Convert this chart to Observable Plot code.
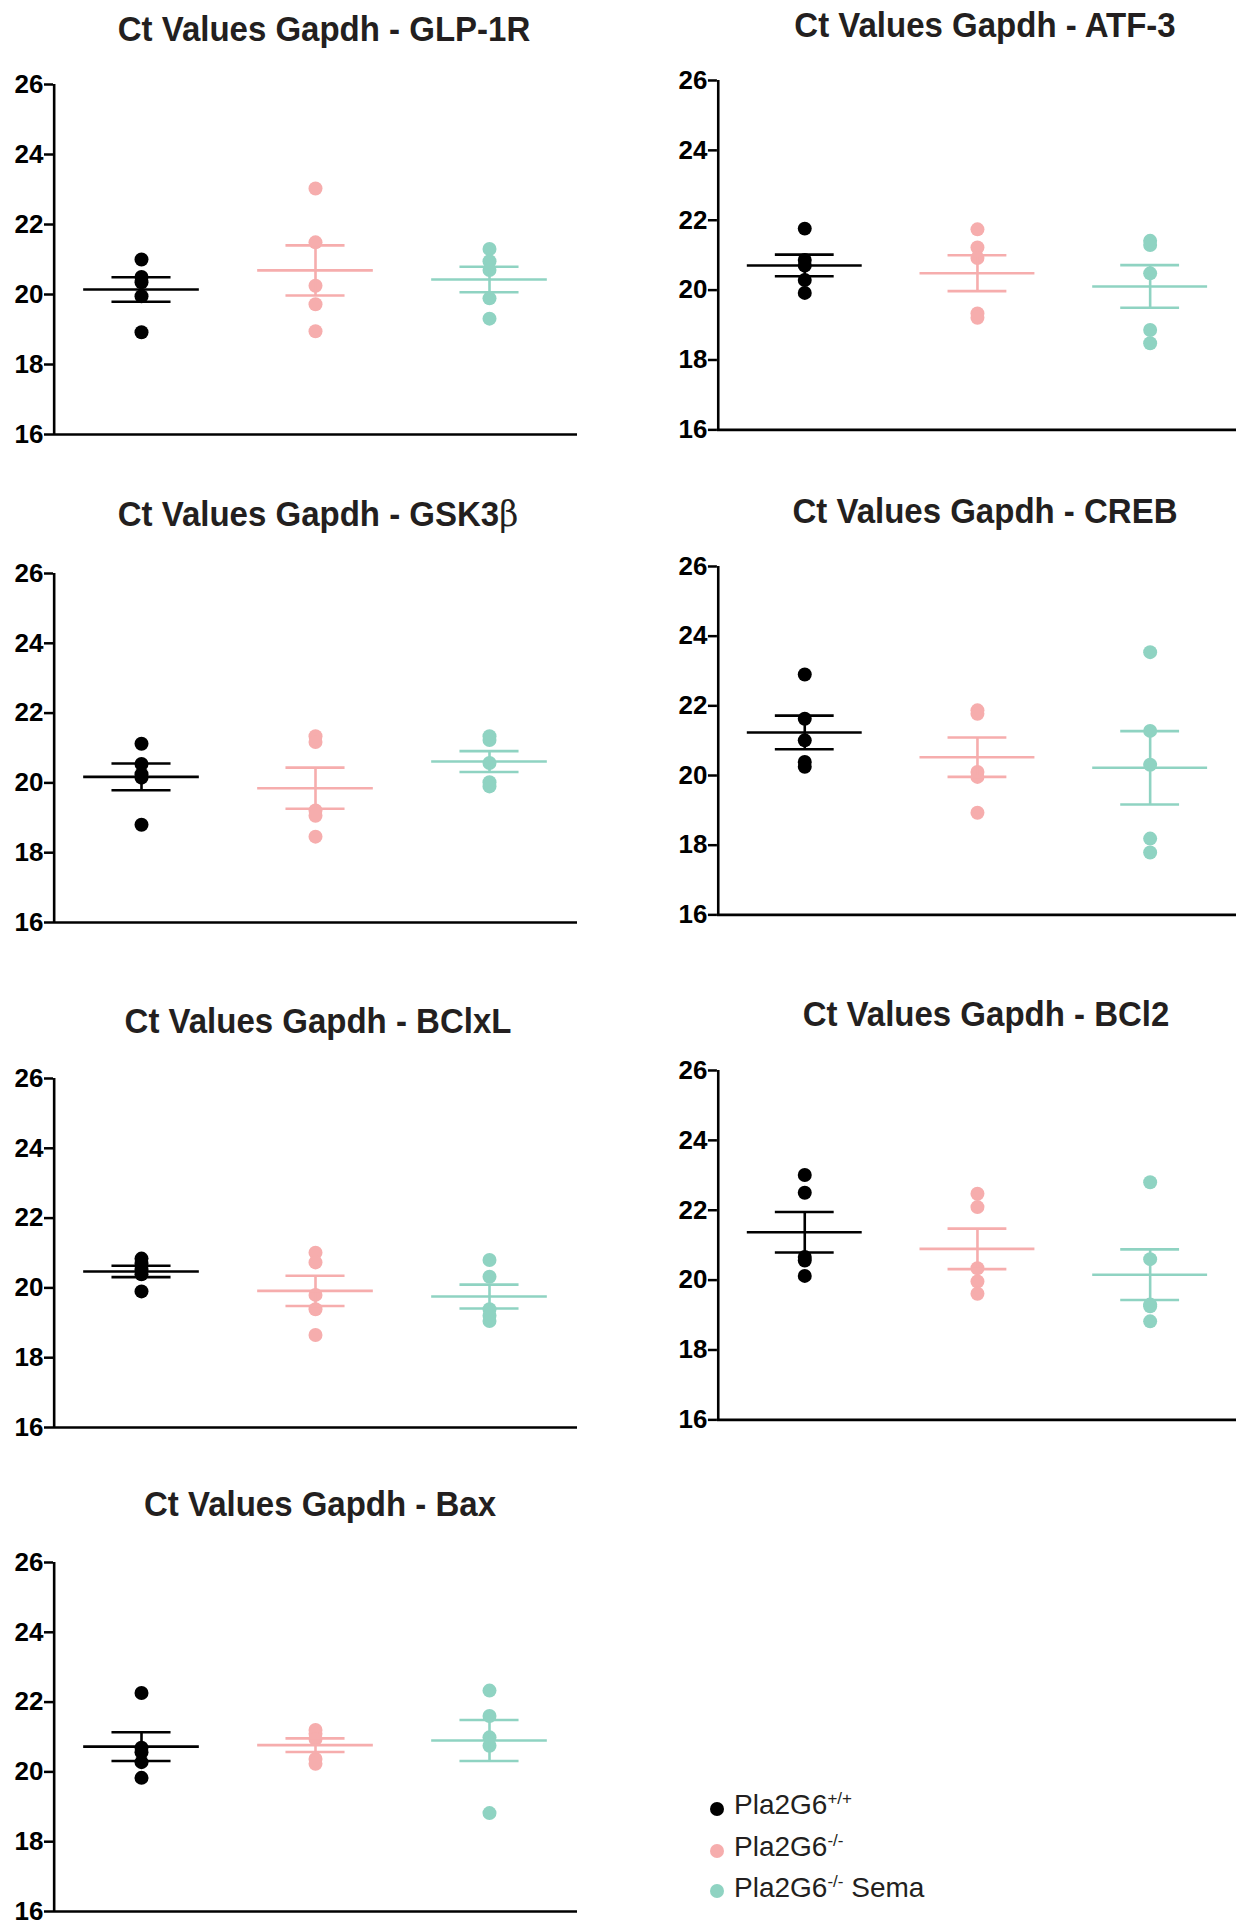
<!DOCTYPE html>
<html><head><meta charset="utf-8">
<script src="https://cdn.jsdelivr.net/npm/d3@7"></script>
<script src="https://cdn.jsdelivr.net/npm/@observablehq/plot@0.6"></script>
<style>
body{margin:0;background:#fff;}
#root{position:relative;width:1238px;height:1921px;overflow:hidden;font-family:"Liberation Sans",Arial,sans-serif;}
.title{position:absolute;font-weight:bold;font-size:33px;line-height:33px;color:#231f20;white-space:nowrap;transform:translateX(-50%) scaleY(1.08);}
.title .greek{font-family:"DejaVu Serif",serif;font-weight:normal;}
.panel{position:absolute;}
.panel svg g[aria-label="y-axis tick label"] text{font-size:26px !important;font-weight:bold !important;}
.li{position:absolute;font-size:28px;line-height:28px;color:#231f20;white-space:nowrap;}
.li sup{font-size:17px;vertical-align:0;position:relative;top:-10px;}
.sw{position:absolute;border-radius:50%;}
</style></head><body><div id="root"></div>
<script>
// ---- data ----
const groups = ["Pla2G6+/+", "Pla2G6-/-", "Pla2G6-/- Sema"];
const genes = ["GLP-1R", "ATF-3", "GSK3β", "CREB", "BClxL", "BCl2", "Bax"];
const yTicks = [16, 18, 20, 22, 24, 26];
const wtValues = [
  [21.0, 20.5, 20.35, 19.95, 18.92],
  [21.76, 20.86, 20.7, 20.29, 19.92],
  [21.12, 20.54, 20.25, 20.15, 18.8],
  [22.9, 21.63, 21.01, 20.39, 20.25],
  [20.84, 20.7, 20.53, 20.39, 19.9],
  [23.01, 22.5, 20.66, 20.56, 20.12],
  [22.26, 20.69, 20.56, 20.28, 19.83]
];
const koValues = [
  [23.03, 21.49, 20.25, 19.72, 18.95],
  [21.74, 21.22, 20.92, 19.33, 19.21],
  [21.34, 21.17, 19.21, 19.06, 18.46],
  [21.87, 21.77, 20.1, 19.96, 18.93],
  [21.01, 20.73, 19.8, 19.39, 18.65],
  [22.47, 22.09, 20.34, 19.96, 19.61],
  [21.2, 21.09, 20.94, 20.37, 20.23]
];
const semaValues = [
  [21.3, 20.95, 20.7, 19.89, 19.31],
  [21.41, 21.29, 20.48, 18.86, 18.48],
  [21.34, 21.23, 20.57, 20.02, 19.9],
  [23.54, 21.28, 20.31, 18.19, 17.79],
  [20.8, 20.32, 19.39, 19.2, 19.05],
  [22.8, 20.6, 19.3, 19.25, 18.82],
  [22.33, 21.6, 20.99, 20.75, 18.82]
];

// ---- styling / layout ----
const colors = ["#000000", "#F6ADAD", "#8FD3C2"];
const layout = [
  {x0: 53,  x1: 577,  y26: 84,   y16: 434,  tx: 324, tb: 40},
  {x0: 717, x1: 1237, y26: 80,   y16: 430,  tx: 985, tb: 36},
  {x0: 53,  x1: 577,  y26: 573,  y16: 922,  tx: 318, tb: 525},
  {x0: 717, x1: 1237, y26: 566,  y16: 915,  tx: 985, tb: 522},
  {x0: 53,  x1: 577,  y26: 1078, y16: 1427, tx: 318, tb: 1032},
  {x0: 717, x1: 1237, y26: 1070, y16: 1420, tx: 986, tb: 1025},
  {x0: 53,  x1: 577,  y26: 1562, y16: 1911, tx: 320, tb: 1515}
];
const root = document.getElementById("root");
const mL = 52, mR = 2, mT = 12, mB = 12;

genes.forEach((gene, gi) => {
  const L = layout[gi];
  const sets = [wtValues[gi], koValues[gi], semaValues[gi]];
  const data = [];
  sets.forEach((arr, i) => arr.forEach(v => data.push({group: groups[i], value: v})));
  const stats = groups.map((g, i) => {
    const a = sets[i];
    const m = d3.mean(a);
    const s = d3.deviation(a) / Math.sqrt(a.length);
    return {group: g, mean: m, lo: m - s, hi: m + s};
  });
  const plotW = L.x1 - L.x0;
  const bw = plotW / 3;
  const meanInset = bw * (1 - 0.666) / 2;
  const capInset = bw * (1 - 0.342) / 2;
  const svg = Plot.plot({
    width: plotW + mL + mR,
    height: (L.y16 - L.y26) + mT + mB,
    marginLeft: mL, marginRight: mR, marginTop: mT, marginBottom: mB,
    style: {fontFamily: "'Liberation Sans', Arial, sans-serif", background: "transparent", overflow: "visible"},
    x: {type: "band", domain: groups, padding: 0, axis: null},
    y: {domain: [16, 26]},
    color: {domain: groups, range: colors},
    marks: [
      Plot.axisY({ticks: yTicks, tickSize: 9, tickPadding: 1, strokeWidth: 2.5, fontSize: 26, fontWeight: "bold", fill: "#000", label: null}),
      Plot.ruleY([16], {strokeWidth: 2.6, stroke: "#000"}),
      Plot.ruleX([groups[0]], {y1: 16, y2: 26, dx: -bw / 2, strokeWidth: 2.6, stroke: "#000"}),
      Plot.dot(data, {x: "group", y: "value", r: 7, fill: "group", stroke: null}),
      Plot.ruleX(stats, {x: "group", y1: "lo", y2: "hi", stroke: "group", strokeWidth: 2.6}),
      Plot.tickY(stats, {x: "group", y: "mean", stroke: "group", strokeWidth: 2.6, insetLeft: meanInset, insetRight: meanInset}),
      Plot.tickY(stats, {x: "group", y: "lo", stroke: "group", strokeWidth: 2.6, insetLeft: capInset, insetRight: capInset}),
      Plot.tickY(stats, {x: "group", y: "hi", stroke: "group", strokeWidth: 2.6, insetLeft: capInset, insetRight: capInset})
    ]
  });
  const wrap = document.createElement("div");
  wrap.className = "panel";
  wrap.style.left = (L.x0 - mL) + "px";
  wrap.style.top = (L.y26 - mT) + "px";
  wrap.appendChild(svg);
  root.appendChild(wrap);

  const t = document.createElement("div");
  t.className = "title";
  t.style.left = L.tx + "px";
  t.style.top = (L.tb - 28) + "px";
  const base = "Ct Values Gapdh - ";
  if (gene.includes("β")) {
    t.textContent = base + gene.replace("β", "");
    const sp = document.createElement("span");
    sp.className = "greek";
    sp.textContent = "β";
    t.appendChild(sp);
  } else {
    t.textContent = base + gene;
  }
  root.appendChild(t);
});

// ---- legend ----
const legendPos = [{cy: 1809, base: 1815}, {cy: 1851, base: 1857}, {cy: 1891, base: 1898}];
const legendSup = ["+/+", "-/-", "-/-"];
const legendTail = ["", "", " Sema"];
groups.forEach((g, i) => {
  const p = legendPos[i];
  const dot = document.createElement("div");
  dot.className = "sw";
  dot.style.width = "14px"; dot.style.height = "14px";
  dot.style.left = (717 - 7) + "px";
  dot.style.top = (p.cy - 7) + "px";
  dot.style.background = colors[i];
  root.appendChild(dot);
  const li = document.createElement("div");
  li.className = "li";
  li.style.left = "734px";
  li.style.top = (p.base - 24) + "px";
  li.innerHTML = "Pla2G6<sup>" + legendSup[i] + "</sup>" + legendTail[i];
  root.appendChild(li);
});
</script></body></html>
